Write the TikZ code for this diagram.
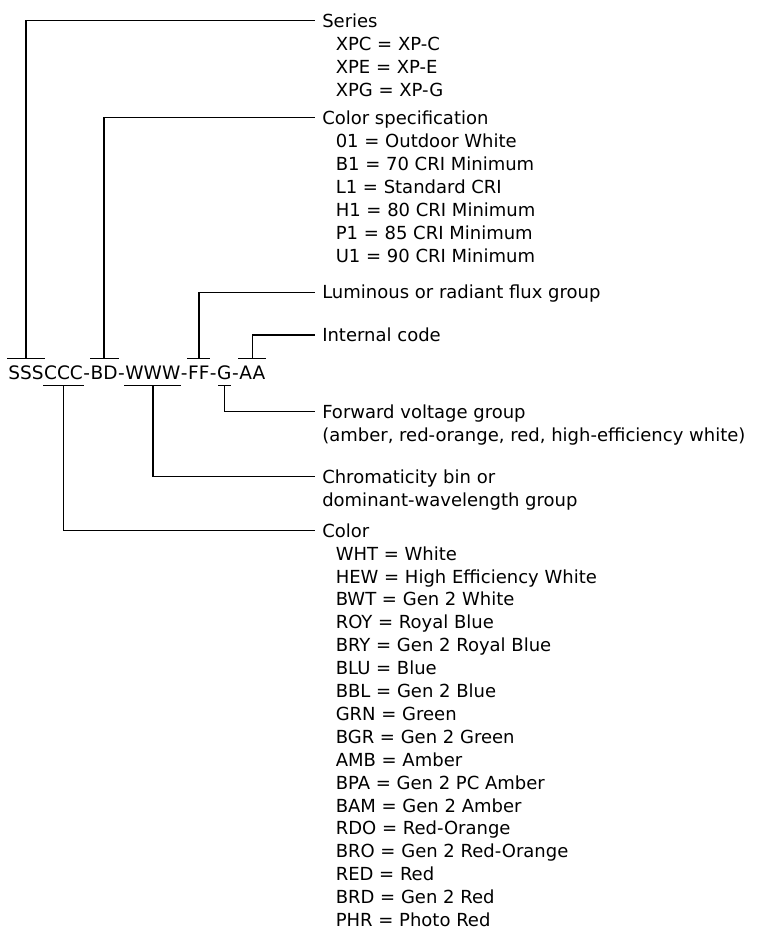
\documentclass[tikz,border=0pt]{standalone}
\usepackage{fontspec}
\setmainfont{DejaVu Sans}
\usetikzlibrary{calc}
\begin{document}
\begin{tikzpicture}[x=0.75pt,y=-0.75pt,
  font=\fontsize{13.5}{16}\selectfont,
  lbl/.style={anchor=base west, inner sep=0pt},
  seg/.style={anchor=base west, inner sep=0pt, font=\fontsize{13.9}{16}\selectfont},
  conn/.style={line width=1.1pt, line cap=rect}]
\useasboundingbox (0,0) rectangle (771,932);

% part number, built from segments
\node[seg] (sss) at (8,379) {SSS};
\node[seg] (ccc) at (sss.base east) {CCC};
\node[seg] (d1) at (ccc.base east) {-};
\node[seg] (bd) at (d1.base east) {BD};
\node[seg] (d2) at (bd.base east) {-};
\node[seg] (www) at (d2.base east) {WWW};
\node[seg] (d3) at (www.base east) {-};
\node[seg] (ff) at (d3.base east) {FF};
\node[seg] (d4) at (ff.base east) {-};
\node[seg] (g) at (d4.base east) {G};
\node[seg] (d5) at (g.base east) {-};
\node[seg] (aa) at (d5.base east) {AA};

\coordinate (top) at (0,358.3);
\coordinate (bot) at (0,385.7);

% headings
\node[lbl] (ser) at (322,27.2) {Series};
\foreach \t [count=\i] in {XPC = XP-C, XPE = XP-E, XPG = XP-G}
  \node[lbl] (ser\i) at (335.5,27.2+23*\i) {\t};

\node[lbl] (cs) at (322,124.2) {Color specification};
\foreach \t [count=\i] in {01 = Outdoor White, B1 = 70 CRI Minimum, L1 = Standard CRI,
    H1 = 80 CRI Minimum, P1 = 85 CRI Minimum, U1 = 90 CRI Minimum}
  \node[lbl] (cs\i) at (335.5,124.2+23*\i) {\t};

\node[lbl] (lum) at (322,298.8) {Luminous or radiant flux group};
\node[lbl] (ic) at (322,341.5) {Internal code};
\node[lbl] (fv) at (322,418.2) {Forward voltage group};
\node[lbl] (fv2) at (322,441.2) {(amber, red-orange, red, high-efficiency white)};
\node[lbl] (ch) at (322,483.2) {Chromaticity bin or};
\node[lbl] (ch2) at (322,506.2) {dominant-wavelength group};

\node[lbl] (col) at (322,537.2) {Color};
\foreach \t [count=\i] in {WHT = White, HEW = High Efficiency White, BWT = Gen 2 White,
    ROY = Royal Blue, BRY = Gen 2 Royal Blue, BLU = Blue, BBL = Gen 2 Blue,
    GRN = Green, BGR = Gen 2 Green, AMB = Amber, BPA = Gen 2 PC Amber,
    BAM = Gen 2 Amber, RDO = Red-Orange, BRO = Gen 2 Red-Orange, RED = Red,
    BRD = Gen 2 Red, PHR = Photo Red}
  \node[lbl] (col\i) at (335.5,537.2+22.9*\i) {\t};

% line ends next to the headings
\coordinate (eSer) at (314,20.7);
\coordinate (eCs) at (314,117.7);
\coordinate (eLum) at (314,292.3);
\coordinate (eIc) at (314,335);
\coordinate (eFv) at (314,411.7);
\coordinate (eCh) at (314,476.7);
\coordinate (eCol) at (314,530.7);

% bars above
\draw[conn] (sss.west |- top) -- (sss.east |- top);
\draw[conn] (bd.west |- top) -- (bd.east |- top);
\draw[conn] (ff.west |- top) -- (ff.east |- top);
\draw[conn] (aa.west |- top) -- (aa.east |- top);
% bars below
\draw[conn] (ccc.west |- bot) -- (ccc.east |- bot);
\draw[conn] (www.west |- bot) -- (www.east |- bot);
\draw[conn] ($(g.north |- bot)+(-5.5,0)$) -- ($(g.north |- bot)+(5.5,0)$);

% connectors
\draw[conn] (sss.north |- top) |- (eSer);
\draw[conn] (bd.north |- top) |- (eCs);
\draw[conn] (ff.north |- top) |- (eLum);
\draw[conn] (aa.north |- top) |- (eIc);
\draw[conn] (g.north |- bot) |- (eFv);
\draw[conn] (www.north |- bot) |- (eCh);
\draw[conn] (ccc.north |- bot) |- (eCol);
\end{tikzpicture}
\end{document}
